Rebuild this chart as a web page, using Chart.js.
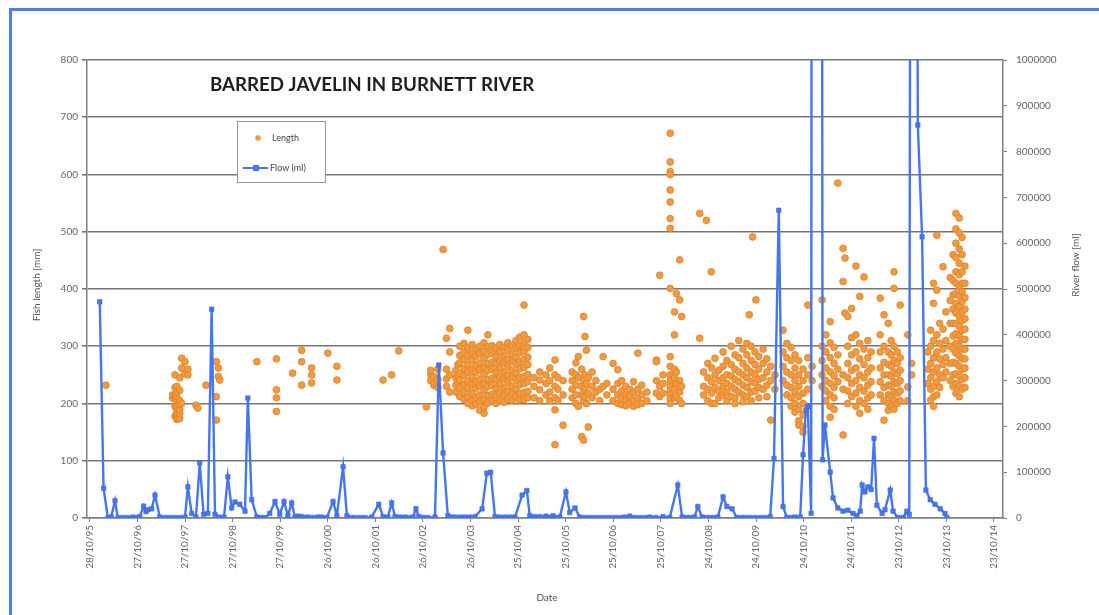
<!DOCTYPE html>
<html>
<head>
<meta charset="utf-8">
<script src="https://cdn.jsdelivr.net/npm/chart.js@4.4.1/dist/chart.umd.min.js"></script>
<style>
  body { margin: 0; background: #fff; }
  #wrap { position: relative; width: 1099px; height: 615px; overflow: hidden; }
  #frame { position: absolute; left: 9px; top: 8px; width: 1120px; height: 640px;
           border: 3px solid #5080e4; pointer-events: none; }
</style>
</head>
<body>
<div id="wrap">
  <canvas id="chart" width="1099" height="615"></canvas>
  <div id="frame"></div>
</div>
<script>
// chart text
const chartTitle = 'BARRED JAVELIN IN BURNETT RIVER';
const leftAxisTitle = 'Fish length [mm]';
const rightAxisTitle = 'River flow [ml]';
const xAxisTitle = 'Date';
const seriesNames = ['Length', 'Flow (ml)'];

// date axis: one tick every 365 days from 28/10/95
const dateTickLabels = ['28/10/95', '27/10/96', '27/10/97', '27/10/98', '27/10/99', '26/10/00',
  '26/10/01', '26/10/02', '26/10/03', '25/10/04', '25/10/05', '25/10/06', '25/10/07', '24/10/08',
  '24/10/09', '24/10/10', '24/10/11', '23/10/12', '23/10/13', '23/10/14'];
const firstTick = 1995.822;          // 28/10/1995 as decimal year
const tickStep = 365 / 365.25;

// river flow (ml): [decimal year, volume]
const riverFlow = [
  [1996.03, 472000], [1996.11, 65000], [1996.20, 0], [1996.27, 2000], [1996.35, 38000], [1996.41, 0],
  [1996.50, 1000], [1996.60, 1000], [1996.72, 2000], [1996.80, 1000], [1996.87, 3000], [1996.95, 26000],
  [1997.00, 14000], [1997.04, 18000], [1997.12, 20000], [1997.19, 50000], [1997.29, 2000], [1997.40, 1000],
  [1997.50, 1000], [1997.60, 1000], [1997.71, 1000], [1997.82, 2000], [1997.88, 68000], [1997.96, 10000],
  [1998.05, 2000], [1998.13, 120000], [1998.21, 8000], [1998.30, 10000], [1998.38, 456000], [1998.45, 8000],
  [1998.53, 2000], [1998.64, 2000], [1998.72, 90000], [1998.80, 22000], [1998.87, 35000], [1998.97, 30000],
  [1999.08, 15000], [1999.14, 262000], [1999.22, 40000], [1999.33, 2000], [1999.42, 1000], [1999.50, 1000],
  [1999.60, 10000], [1999.71, 36000], [1999.81, 8000], [1999.90, 36000], [1999.98, 5000], [2000.06, 33000],
  [2000.13, 2000], [2000.20, 4000], [2000.27, 3000], [2000.38, 2000], [2000.46, 1000], [2000.55, 1000],
  [2000.62, 2000], [2000.69, 2000], [2000.80, 1000], [2000.93, 36000], [2001.01, 5000], [2001.14, 112000],
  [2001.22, 5000], [2001.30, 1000], [2001.39, 1000], [2001.50, 1000], [2001.60, 1000], [2001.74, 2000],
  [2001.89, 30000], [2001.98, 3000], [2002.08, 2000], [2002.16, 33000], [2002.23, 3000], [2002.33, 2000],
  [2002.44, 2000], [2002.52, 1000], [2002.61, 2000], [2002.67, 20000], [2002.73, 3000], [2002.82, 1000],
  [2002.92, 1000], [2003.07, 2000], [2003.15, 334000], [2003.24, 142000], [2003.34, 5000], [2003.42, 2000],
  [2003.49, 2000], [2003.60, 2000], [2003.70, 2000], [2003.80, 2000], [2003.91, 3000], [2004.06, 20000],
  [2004.16, 98000], [2004.24, 100000], [2004.33, 3000], [2004.43, 2000], [2004.54, 2000], [2004.65, 2000],
  [2004.75, 2000], [2004.90, 50000], [2005.00, 60000], [2005.06, 5000], [2005.16, 3000], [2005.27, 3000],
  [2005.40, 4000], [2005.55, 5000], [2005.69, 2000], [2005.82, 57000], [2005.90, 12000], [2006.01, 22000],
  [2006.11, 2000], [2006.22, 1000], [2006.32, 1000], [2006.42, 1000], [2006.53, 1000], [2006.64, 1000],
  [2006.74, 1000], [2006.85, 1000], [2006.95, 1000], [2007.05, 2000], [2007.16, 4000], [2007.26, 1000],
  [2007.37, 1000], [2007.48, 1000], [2007.58, 2000], [2007.70, 1000], [2007.86, 3000], [2008.00, 1000],
  [2008.17, 72000], [2008.26, 2000], [2008.35, 1000], [2008.43, 1000], [2008.52, 2000], [2008.59, 25000],
  [2008.68, 2000], [2008.77, 1000], [2008.85, 1000], [2008.93, 1000], [2009.01, 2000], [2009.12, 46000],
  [2009.20, 25000], [2009.31, 20000], [2009.41, 1000], [2009.50, 1000], [2009.58, 1000], [2009.68, 1000],
  [2009.79, 1000], [2009.90, 1000], [2010.00, 1000], [2010.11, 3000], [2010.19, 130000], [2010.29, 672000],
  [2010.38, 25000], [2010.46, 1000], [2010.55, 1000], [2010.63, 2000], [2010.74, 2000], [2010.80, 138000],
  [2010.86, 236000], [2010.90, 243000], [2010.97, 10000], [2010.99, 2800000], [2011.19, 2400000],
  [2011.21, 127000], [2011.26, 203000], [2011.37, 100000], [2011.43, 44000], [2011.53, 22000],
  [2011.64, 15000], [2011.74, 17000], [2011.85, 10000], [2011.93, 5000], [2012.00, 15000], [2012.04, 72000],
  [2012.10, 57000], [2012.16, 68000], [2012.23, 62000], [2012.29, 174000], [2012.35, 28000], [2012.46, 10000],
  [2012.52, 18000], [2012.63, 61000], [2012.69, 15000], [2012.79, 1000], [2012.90, 1000], [2012.98, 15000],
  [2013.03, 8000], [2013.07, 2500000], [2013.18, 2200000], [2013.21, 858000], [2013.30, 614000],
  [2013.38, 61000], [2013.47, 40000], [2013.57, 30000], [2013.68, 20000], [2013.78, 10000], [2013.82, 1000]
];

// fish lengths (mm) per sampling trip: [decimal year, length, length, ...]
const fishSamples = [
  [1996.16, 232],
  [1997.56, 209, 215], [1997.61, 178, 195, 215, 228, 250],
  [1997.65, 172, 176, 180, 185, 190, 195, 200, 206, 212, 220, 230],
  [1997.71, 174, 183, 190, 198, 205, 223, 245], [1997.75, 279, 262, 200], [1997.82, 273, 252],
  [1997.88, 260, 250], [1998.05, 197], [1998.09, 192], [1998.26, 232],
  [1998.48, 273, 212, 171], [1998.52, 262, 247], [1998.55, 241],
  [1999.33, 273], [1999.74, 278, 224, 210, 186],
  [2000.08, 253], [2000.27, 293, 273, 232], [2000.48, 262, 250, 236], [2000.82, 288], [2001.01, 265, 241],
  [2001.98, 241], [2002.16, 250], [2002.31, 292],
  [2002.89, 194], [2002.98, 250, 240, 258], [2003.05, 232, 247, 236], [2003.13, 228, 260, 242],
  [2003.24, 469], [2003.31, 314, 260, 230, 243], [2003.38, 331, 290, 250, 220],
  [2003.51, 258, 245, 232, 220], [2003.55, 268, 250, 238],
  [2003.59, 300, 284, 271, 253, 241, 226, 212],
  [2003.68, 305, 290, 277, 261, 249, 233, 219, 207],
  [2003.76, 328, 297, 284, 268, 255, 239, 227, 211, 200],
  [2003.85, 303, 288, 276, 260, 246, 234, 218, 205, 196],
  [2003.93, 296, 283, 267, 255, 239, 227, 211, 199],
  [2004.01, 300, 287, 271, 259, 243, 231, 215, 203, 188],
  [2004.10, 306, 291, 279, 263, 251, 235, 223, 207, 194, 183],
  [2004.18, 320, 299, 286, 270, 258, 242, 230, 214, 201],
  [2004.27, 301, 288, 272, 260, 244, 232, 216, 204],
  [2004.35, 297, 282, 270, 254, 242, 226, 214, 200],
  [2004.43, 303, 290, 274, 262, 246, 234, 218, 205],
  [2004.52, 298, 283, 271, 255, 243, 227, 215, 202],
  [2004.60, 306, 293, 277, 265, 249, 237, 221, 208],
  [2004.69, 301, 286, 274, 258, 246, 230, 218, 205],
  [2004.77, 310, 297, 281, 269, 253, 241, 225, 212],
  [2004.85, 316, 301, 289, 273, 261, 245, 233, 217, 206],
  [2004.94, 372, 320, 306, 291, 277, 263, 247, 235, 219, 207],
  [2005.02, 312, 298, 281, 268, 251, 238, 221, 210],
  [2005.15, 230, 245, 210], [2005.27, 241, 224, 255, 205], [2005.40, 235, 215, 250],
  [2005.48, 220, 262, 205, 240], [2005.59, 276, 250, 230, 210, 189, 128], [2005.65, 245, 225, 205],
  [2005.76, 162, 240, 215], [2005.95, 240, 225, 210, 255], [2006.03, 271, 250, 232, 215, 200],
  [2006.08, 282, 245, 195], [2006.15, 142, 230, 215, 260], [2006.19, 352, 136, 240, 222, 205],
  [2006.22, 317, 250, 228, 212], [2006.25, 293, 235, 200], [2006.29, 159, 245, 218],
  [2006.37, 230, 210, 255], [2006.45, 220, 240], [2006.53, 225, 205],
  [2006.60, 282, 230], [2006.68, 235, 215], [2006.81, 270, 225, 205], [2006.91, 259, 235, 215, 200],
  [2006.99, 240, 222, 208, 198], [2007.08, 230, 215, 205, 196], [2007.16, 225, 212, 200],
  [2007.24, 238, 220, 205, 195], [2007.33, 288, 225, 210, 198], [2007.41, 232, 215, 200],
  [2007.52, 220, 205],
  [2007.72, 276, 273, 240, 218], [2007.79, 424, 212, 230], [2007.86, 218, 250, 235],
  [2008.01, 672, 622, 605, 600, 573, 552, 523, 506, 401, 282, 265, 250, 240, 230, 222, 215, 208, 200],
  [2008.10, 360, 320, 260, 245, 225, 210], [2008.14, 392, 255, 235, 212],
  [2008.21, 451, 381, 240, 220, 205], [2008.25, 352, 230, 200],
  [2008.63, 532, 314], [2008.77, 520], [2008.87, 430],
  [2008.71, 255, 230, 215], [2008.80, 270, 245, 225, 205], [2008.88, 262, 238, 218, 200],
  [2008.95, 279, 250, 228, 200], [2009.03, 258, 240, 222, 210], [2009.12, 290, 265, 245, 230, 215],
  [2009.20, 275, 250, 235, 220, 205], [2009.29, 300, 268, 248, 230, 212],
  [2009.37, 285, 260, 242, 225, 210, 200], [2009.45, 310, 280, 255, 238, 220],
  [2009.54, 295, 270, 250, 232, 215, 203], [2009.62, 305, 285, 262, 245, 228, 212],
  [2009.67, 355], [2009.71, 300, 275, 255, 238, 220, 205], [2009.74, 491],
  [2009.79, 290, 268, 250, 236, 222], [2009.81, 381], [2009.87, 282, 260, 242, 228, 210],
  [2009.96, 295, 270, 245, 225], [2010.04, 278, 255, 232, 212], [2010.12, 265, 240, 171],
  [2010.21, 250, 225],
  [2010.38, 328, 290, 265, 240], [2010.46, 305, 280, 255, 232, 215],
  [2010.55, 298, 275, 250, 228, 210, 195], [2010.63, 285, 262, 240, 220, 200, 185],
  [2010.71, 275, 250, 230, 212, 190, 170, 162], [2010.80, 260, 240, 218, 200, 180, 160, 150],
  [2010.90, 372, 280, 250, 225], [2010.99, 265, 240],
  [2011.20, 381, 300, 275, 250, 230], [2011.28, 320, 290, 262, 240, 222, 205],
  [2011.37, 343, 306, 280, 255, 235, 215, 195, 176], [2011.45, 298, 270, 248, 228, 210, 190],
  [2011.53, 585, 285, 260, 238], [2011.64, 471, 413, 145, 250, 225], [2011.68, 454, 358],
  [2011.74, 352, 300, 270, 245, 222, 200], [2011.82, 366, 315, 285, 258, 235, 212],
  [2011.91, 440, 320, 290, 262, 240, 218, 195], [2011.99, 387, 305, 278, 250, 228, 205, 183],
  [2012.08, 421, 295, 268, 245, 222, 200], [2012.16, 310, 280, 255, 232, 210, 190],
  [2012.23, 290, 262, 238, 215],
  [2012.42, 384, 320, 290, 262, 238, 215], [2012.50, 355, 300, 272, 250, 228, 205, 171],
  [2012.59, 340, 290, 268, 250, 232, 215, 200, 188], [2012.65, 310, 285, 265, 248, 230, 212, 195],
  [2012.71, 430, 401, 300, 275, 255, 238, 220, 205, 190], [2012.78, 290, 270, 252, 235, 218, 200],
  [2012.84, 372, 280, 258, 240, 222, 205],
  [2013.00, 320, 229, 205], [2013.08, 270, 250],
  [2013.42, 290, 260, 235], [2013.48, 328, 300, 270, 245, 225, 206],
  [2013.54, 410, 375, 310, 280, 255, 230, 212, 195], [2013.61, 494, 398, 320, 290, 262, 238, 215],
  [2013.67, 340, 305, 278, 250, 228], [2013.74, 439, 330, 295, 268, 245], [2013.80, 360, 310, 280, 255],
  [2013.89, 420, 380, 340, 300, 270, 240],
  [2013.95, 460, 415, 390, 365, 340, 318, 295, 272, 250, 230],
  [2014.01, 532, 505, 480, 455, 430, 410, 392, 375, 358, 340, 322, 305, 288, 270, 252, 235, 218],
  [2014.08, 524, 498, 470, 445, 425, 405, 388, 370, 352, 335, 318, 300, 283, 265, 248, 230, 212],
  [2014.14, 490, 460, 430, 410, 395, 378, 360, 345, 328, 312, 295, 278, 260, 242, 225],
  [2014.20, 440, 410, 385, 365, 348, 330, 312, 295, 278, 262, 245, 228]
];

const lengthPoints = fishSamples.flatMap(([date, ...lens]) => lens.map(len => ({ x: date, y: len })));
const flowPoints = riverFlow.map(([date, vol]) => ({ x: date, y: vol }));
const xTickValues = dateTickLabels.map((_, i) => firstTick + i * tickStep);

const orange = '#f39a3d';
const blue = '#4676ee';
const axisGrey = '#808080';
const tickFont = { family: 'Lato', size: 10 };

// title, legend box and axis titles sit inside / around the plot like the Excel original
const overlayText = {
  id: 'overlayText',
  afterDraw(chart) {
    const ctx = chart.ctx;
    ctx.save();
    ctx.textBaseline = 'middle';

    ctx.font = 'bold 18.7px Lato';
    ctx.fillStyle = '#1e1e1e';
    ctx.fillText(chartTitle, 210, 85);

    // legend
    ctx.fillStyle = '#fff';
    ctx.fillRect(237.5, 121.5, 88, 61);
    ctx.strokeStyle = '#9a9a9a';
    ctx.lineWidth = 1;
    ctx.strokeRect(237.5, 121.5, 88, 61);
    ctx.beginPath();
    ctx.arc(258, 138, 2.8, 0, Math.PI * 2);
    ctx.fillStyle = orange;
    ctx.fill();
    ctx.strokeStyle = blue;
    ctx.lineWidth = 2;
    ctx.beginPath();
    ctx.moveTo(243, 168);
    ctx.lineTo(268, 168);
    ctx.stroke();
    ctx.fillStyle = blue;
    ctx.fillRect(253, 165, 6, 6);
    ctx.font = '9px Lato';
    ctx.fillStyle = '#444';
    ctx.fillText(seriesNames[0], 272, 138);
    ctx.fillText(seriesNames[1], 270, 168);

    // axis titles
    ctx.font = '10px Lato';
    ctx.fillStyle = '#555';
    ctx.textAlign = 'center';
    ctx.fillText(xAxisTitle, 547, 598);
    ctx.translate(37, 285);
    ctx.rotate(-Math.PI / 2);
    ctx.fillText(leftAxisTitle, 0, 0);
    ctx.setTransform(1, 0, 0, 1, 0, 0);
    ctx.translate(1076, 265);
    ctx.rotate(-Math.PI / 2);
    ctx.fillText(rightAxisTitle, 0, 0);
    ctx.restore();
  }
};

new Chart(document.getElementById('chart'), {
  type: 'scatter',
  data: {
    datasets: [
      {
        label: seriesNames[1],
        data: flowPoints,
        yAxisID: 'y1',
        showLine: true,
        order: 0,
        borderColor: blue,
        borderWidth: 2.4,
        pointStyle: 'rect',
        pointRadius: 3.2,
        pointBackgroundColor: blue,
        pointBorderColor: '#3a64d6',
        pointBorderWidth: 0.5
      },
      {
        label: seriesNames[0],
        data: lengthPoints,
        yAxisID: 'y',
        order: 1,
        pointRadius: 3.4,
        backgroundColor: orange,
        borderColor: '#d9822e',
        borderWidth: 0.8
      }
    ]
  },
  options: {
    responsive: false,
    animation: false,
    layout: { padding: { top: 60, left: 0, right: 0, bottom: 0 } },
    plugins: { legend: { display: false }, tooltip: { enabled: false } },
    scales: {
      x: {
        type: 'linear',
        min: firstTick - 0.06,
        max: firstTick + 19 * tickStep + 0.19,
        afterBuildTicks: s => { s.ticks = xTickValues.map(v => ({ value: v })); },
        afterFit: s => { s.height = 97; },
        ticks: {
          autoSkip: false, minRotation: 90, maxRotation: 90, padding: 3,
          font: tickFont, color: '#666',
          callback: (v, i) => dateTickLabels[i]
        },
        grid: { drawOnChartArea: false, tickLength: 4, color: axisGrey },
        border: { color: axisGrey, width: 1.5 }
      },
      y: {
        position: 'left',
        min: 0,
        max: 800,
        afterFit: s => { s.width = 87; },
        ticks: { stepSize: 100, padding: 4, font: tickFont, color: '#666' },
        grid: { color: '#767676', lineWidth: 1.6, tickLength: 5 },
        border: { color: axisGrey, width: 1.5 }
      },
      y1: {
        position: 'right',
        min: 0,
        max: 1000000,
        afterFit: s => { s.width = 96; },
        ticks: { stepSize: 100000, padding: 9, font: tickFont, color: '#666', callback: v => String(v) },
        grid: { drawOnChartArea: false, tickLength: 4, color: axisGrey },
        border: { color: axisGrey, width: 1.5 }
      }
    }
  },
  plugins: [overlayText]
});
</script>
</body>
</html>
